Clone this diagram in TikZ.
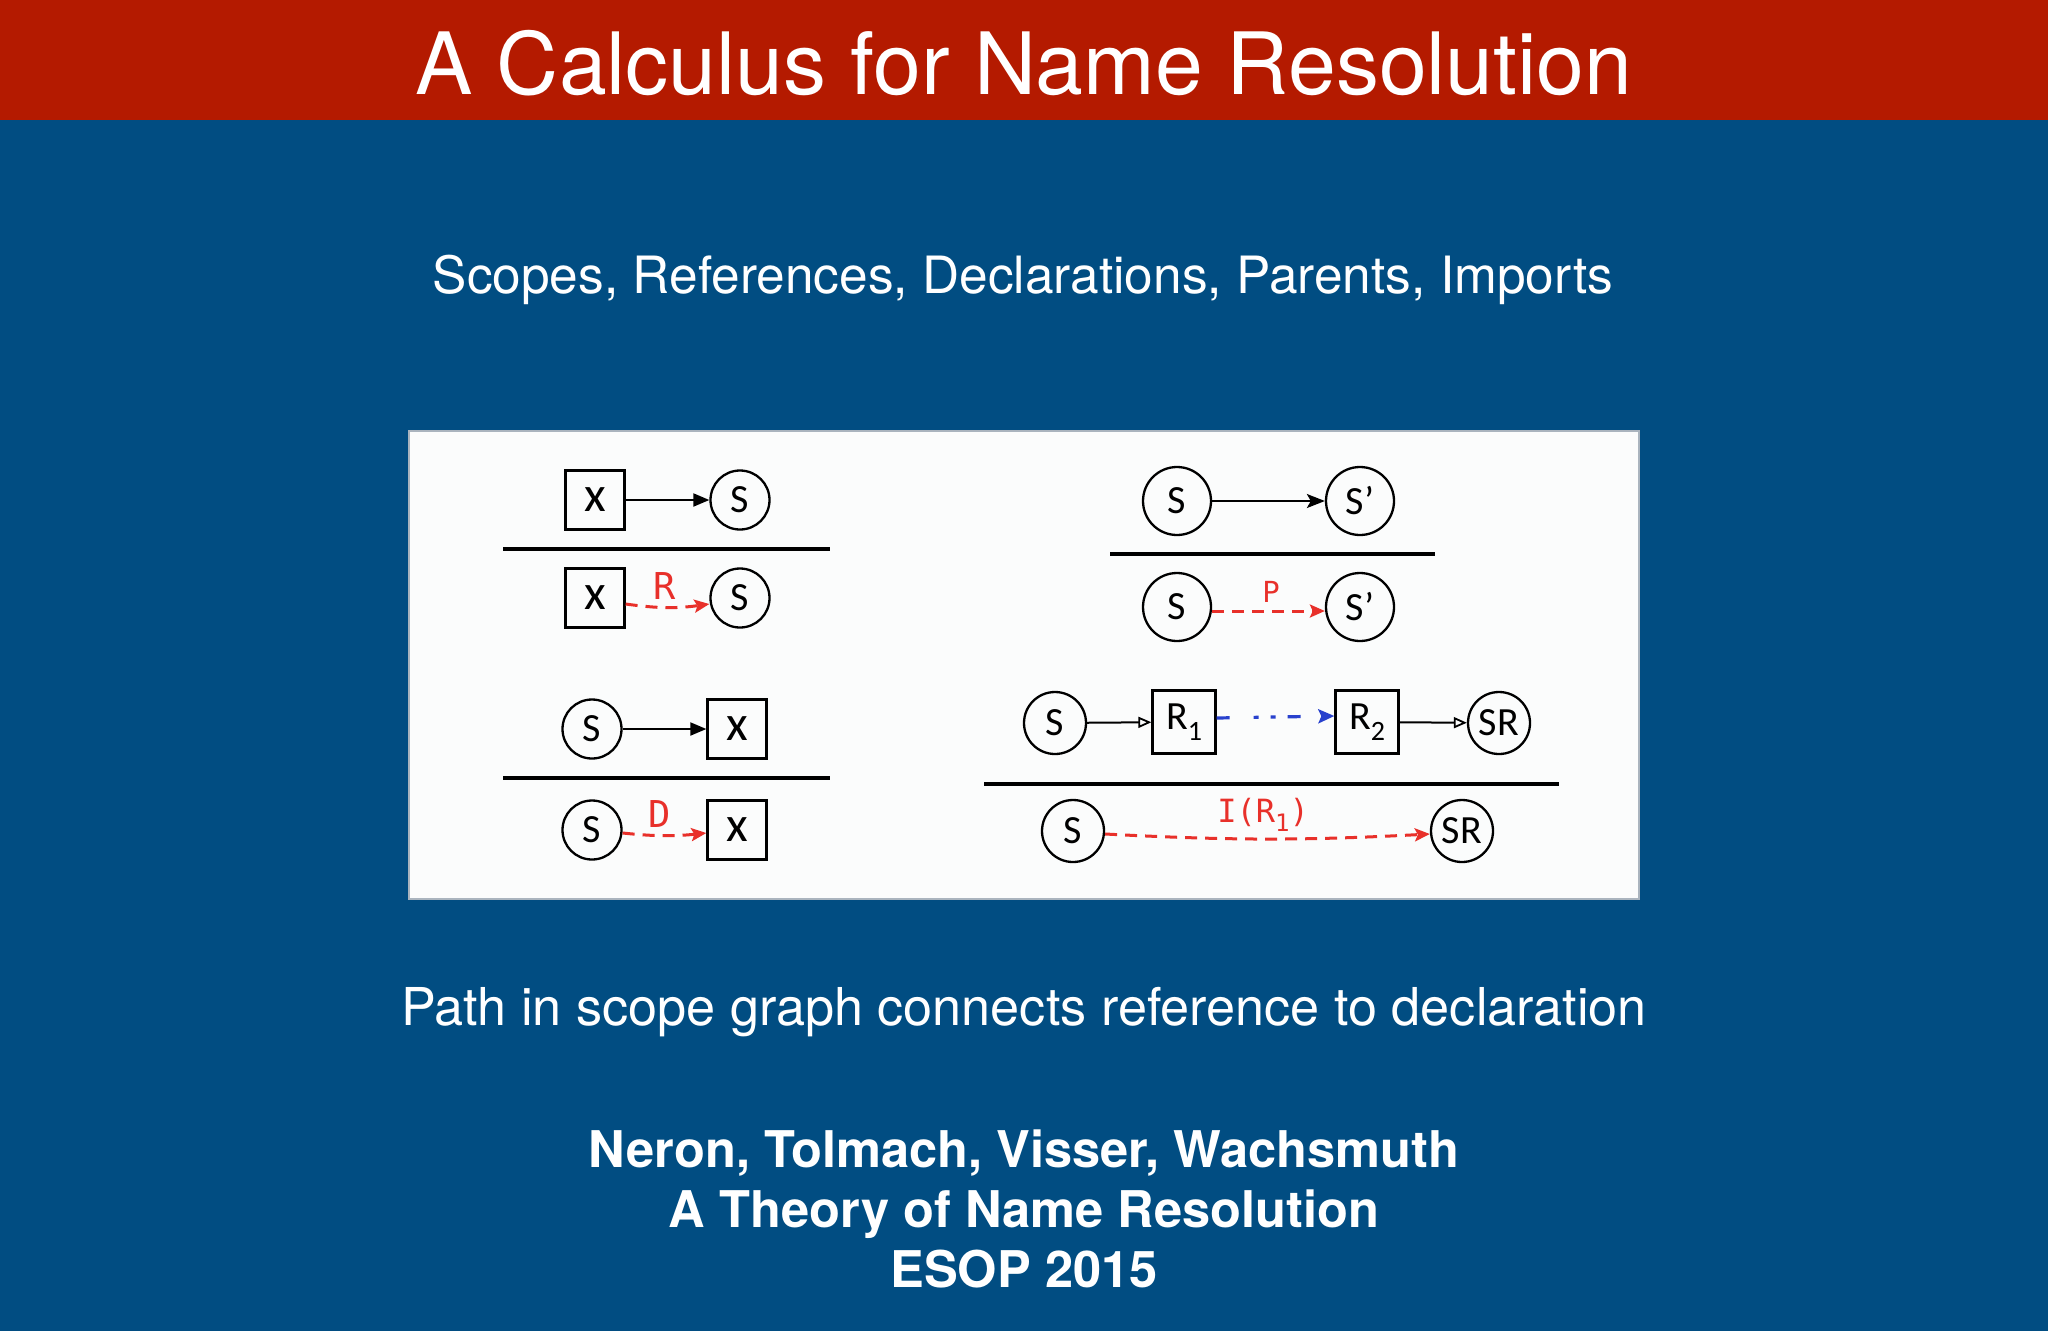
\documentclass[tikz,border=0pt]{standalone}
\usepackage{fontspec}
\setmainfont{TeX Gyre Heros}
\newfontfamily\carl{Carlito}
\newfontfamily\monof{DejaVu Sans Mono}
\usetikzlibrary{arrows.meta}
\definecolor{titlered}{RGB}{180,26,0}
\definecolor{bgblue}{RGB}{1,77,130}
\definecolor{lblred}{RGB}{232,48,42}
\definecolor{lblblue}{RGB}{40,65,205}
\definecolor{panelfill}{RGB}{251,252,252}
\definecolor{panelborder}{RGB}{170,180,190}
\newcommand{\bigx}{{\fontsize{50}{50}\selectfont x}}
\newcommand{\subn}[1]{\raisebox{-0.28em}{\fontsize{28}{28}\selectfont #1}}
\begin{document}
\begin{tikzpicture}[x=1pt,y=-1pt,
  circ/.style={circle,draw=black,line width=2.3pt,inner sep=0pt,minimum size=#1,
    font=\carl\fontsize{40}{40}\selectfont},
  circ/.default=59pt,
  sq/.style={rectangle,draw=black,line width=2.3pt,inner sep=0pt,minimum width=#1,minimum height=#1,
    font=\carl\fontsize{40}{40}\selectfont},
  sq/.default=59pt,
  rulebar/.style={line width=3.5pt,black},
  solidarrow/.style={line width=2pt,black,-{Triangle[length=16pt,width=13pt]}},
  openarrow/.style={line width=2pt,black,-{Triangle[open,length=13pt,width=11pt,line width=1.8pt]}},
  stealtharrow/.style={line width=2pt,black,-{Stealth[length=18pt,width=14pt,inset=4pt]}},
  redarrow/.style={line width=3pt,lblred,dash pattern=on 12pt off 8pt,-{Stealth[length=15pt,width=13pt,inset=3pt]}},
  bluearrow/.style={line width=3.2pt,lblblue,dash pattern=on 13pt off 24pt on 5pt off 12pt on 5pt off 12pt on 13pt off 40pt,-{Stealth[length=16pt,width=14pt,inset=3pt]}},
  lbl/.style={anchor=base,text=lblred,inner sep=0pt,font=\monof\fontsize{#1}{#1}\selectfont},
  slidetext/.style={anchor=base,text=white,inner sep=0pt},
]
\useasboundingbox (0,0) rectangle (2048,1331);
\fill[bgblue] (0,0) rectangle (2048,1331);
\fill[titlered] (0,0) rectangle (2048,120);

\node[slidetext,font=\fontsize{86}{86}\selectfont] (title) at (1024,94) {A Calculus for Name Resolution};
\node[slidetext,font=\fontsize{51.4}{51.4}\selectfont] (sub) at (1023,293) {Scopes, References, Declarations, Parents, Imports};

\node[rectangle,draw=panelborder,line width=2pt,fill=panelfill,minimum width=1230pt,minimum height=468pt,inner sep=0pt] (panel) at (1024,665) {};

% rule 1 (reference)
\node[sq] (b1) at (595,500) {\bigx};
\node[circ] (c1) at (740,500) {S};
\draw[solidarrow] (b1) -- (c1);
\coordinate (l1a) at (503,549);
\coordinate (l1b) at (830,549);
\draw[rulebar] (l1a) -- (l1b);
\node[sq] (b1b) at (595,598) {\bigx};
\node[circ] (c1b) at (740,598) {S};
\draw[redarrow] ([yshift=-6pt]b1b.east) to[bend right=8] ([yshift=-6pt]c1b.west);
\node[lbl=37] (labR) at (665,599) {R};

% rule 3 (declaration)
\node[circ] (c3) at (592,729) {S};
\node[sq] (b3) at (737,729) {\bigx};
\draw[solidarrow] (c3) -- (b3);
\coordinate (l3a) at (503,778);
\coordinate (l3b) at (830,778);
\draw[rulebar] (l3a) -- (l3b);
\node[circ] (c3b) at (592,830) {S};
\node[sq] (b3b) at (737,830) {\bigx};
\draw[redarrow] ([yshift=-3pt]c3b.east) to[bend right=6] ([yshift=-3pt]b3b.west);
\node[lbl=37] (labD) at (660,827) {D};

% rule 2 (parent)
\node[circ=68pt] (s2) at (1177,501) {S};
\node[circ=68pt] (s2p) at (1360,501) {S’};
\draw[stealtharrow] (s2) -- (s2p);
\coordinate (l2a) at (1110,554);
\coordinate (l2b) at (1435,554);
\draw[rulebar] (l2a) -- (l2b);
\node[circ=68pt] (s2b) at (1177,607) {S};
\node[circ=68pt] (s2pb) at (1360,607) {S’};
\draw[redarrow] ([yshift=-4pt]s2b.east) -- ([yshift=-4pt]s2pb.west);
\node[lbl=29] (labP) at (1271,602) {P};

% rule 4 (import)
\node[circ=62pt] (s4) at (1055,723) {S};
\node[sq=63pt] (r1) at (1184,722) {R\subn{1}};
\node[sq=63pt] (r2) at (1367,722) {R\subn{2}};
\node[circ=62pt] (sr) at (1499,723) {SR};
\draw[openarrow] (s4) -- (r1);
\draw[bluearrow] ([yshift=4pt]r1.east) -- ([yshift=6pt]r2.west);
\draw[openarrow] (r2) -- (sr);
\coordinate (l4a) at (984,784);
\coordinate (l4b) at (1559,784);
\draw[rulebar] (l4a) -- (l4b);
\node[circ=62pt] (s4b) at (1073,831) {S};
\node[circ=62pt] (sr4b) at (1462,831) {SR};
\draw[redarrow] ([yshift=-3pt]s4b.east) to[bend right=3] ([yshift=-3pt]sr4b.west);
\node[lbl=32] (labI) at (1263,822) {I(R\raisebox{-0.3em}{\fontsize{24}{24}\selectfont 1})};

\node[slidetext,font=\fontsize{52.2}{52.2}\selectfont] (path) at (1024,1025) {Path in scope graph connects reference to declaration};
\node[slidetext,font=\bfseries\fontsize{50.6}{50.6}\selectfont] (authors) at (1024,1167) {Neron, Tolmach, Visser, Wachsmuth};
\node[slidetext,font=\bfseries\fontsize{50.6}{50.6}\selectfont] (paper) at (1024,1227) {A Theory of Name Resolution};
\node[slidetext,font=\bfseries\fontsize{50.6}{50.6}\selectfont] (venue) at (1024,1287) {ESOP 2015};
\end{tikzpicture}
\end{document}
